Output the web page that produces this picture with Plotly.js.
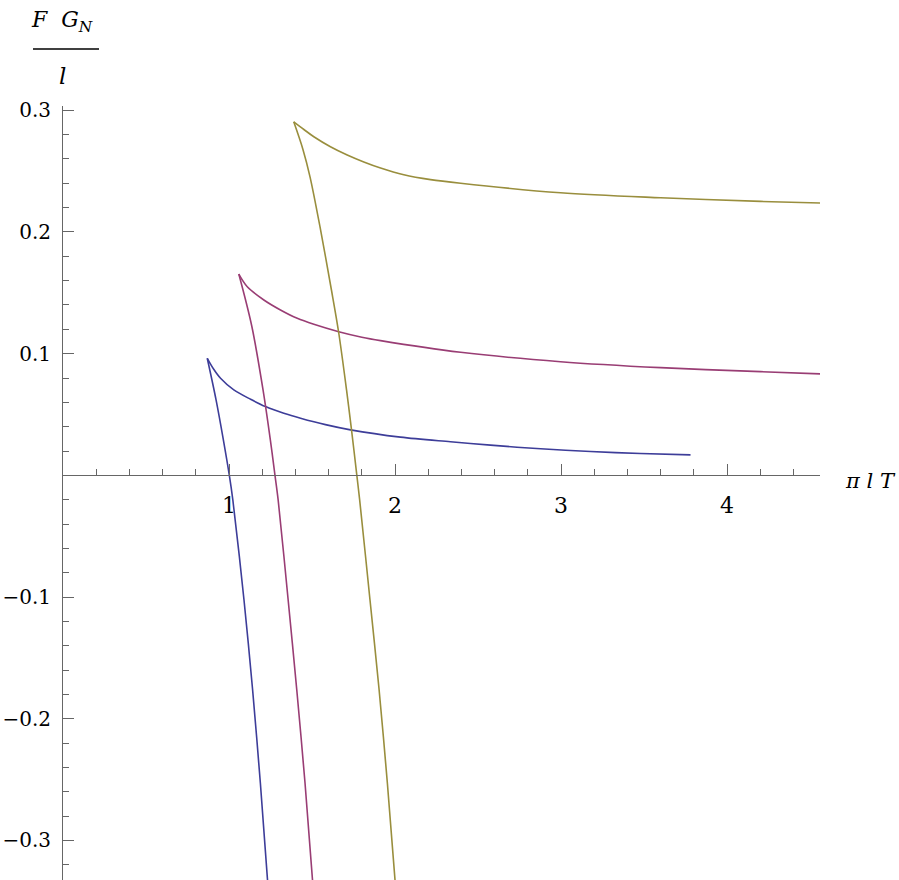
<!DOCTYPE html>
<html>
<head>
<meta charset="utf-8">
<script src="https://cdn.plot.ly/plotly-3.0.1.min.js"></script>
<style>html,body{margin:0;padding:0;background:#fff;}#chart{width:899px;height:880px;}</style>
</head>
<body>
<div id="chart"></div>
<script>
// Blue series: upper branch (right end -> cusp) and lower branch (cusp -> bottom)
const blueUpperX = [3.78, 3.479, 3.178, 2.877, 2.575, 2.334, 2.033, 1.732, 1.581, 1.431, 1.33, 1.22, 1.13, 1.029, 0.949, 0.908, 0.869];
const blueUpperY = [0.0168, 0.0179, 0.0196, 0.0218, 0.0248, 0.0276, 0.0314, 0.0374, 0.0417, 0.047, 0.0511, 0.0565, 0.0625, 0.0702, 0.0798, 0.0872, 0.0962];
const blueLowerX = [0.869, 0.922, 0.966, 1.002, 1.023, 1.090, 1.142, 1.189, 1.232];
const blueLowerY = [0.0962, 0.062, 0.0292, 0.0, -0.0201, -0.102, -0.176, -0.253, -0.3325];
// Magenta series
const magUpperX = [4.583, 4.202, 3.6, 2.997, 2.395, 1.913, 1.8, 1.661, 1.511, 1.411, 1.31, 1.21, 1.11, 1.059];
const magUpperY = [0.0833, 0.0852, 0.0885, 0.0934, 0.1011, 0.1107, 0.1135, 0.118, 0.1241, 0.129, 0.1359, 0.1441, 0.155, 0.1654];
const magLowerX = [1.059, 1.137, 1.205, 1.249, 1.277, 1.296, 1.356, 1.408, 1.458, 1.503];
const magLowerY = [0.1654, 0.1227, 0.0702, 0.0291, 0.0, -0.0201, -0.102, -0.176, -0.253, -0.3325];
// Olive series
const oliveUpperX = [4.583, 4.202, 3.6, 2.997, 2.395, 2.214, 2.053, 1.913, 1.812, 1.712, 1.611, 1.511, 1.451, 1.39];
const oliveUpperY = [0.2237, 0.2251, 0.2281, 0.2322, 0.240, 0.2430, 0.2470, 0.2525, 0.2575, 0.2632, 0.270, 0.2782, 0.2842, 0.2905];
const oliveLowerX = [1.39, 1.445, 1.488, 1.548, 1.617, 1.66, 1.708, 1.738, 1.770, 1.787, 1.849, 1.904, 1.954, 2.0];
const oliveLowerY = [0.2905, 0.268, 0.2453, 0.2043, 0.1523, 0.118, 0.0702, 0.0374, 0.0, -0.0201, -0.102, -0.176, -0.253, -0.3325];

const xTickVals = [1, 2, 3, 4];
const xTickText = ["1", "2", "3", "4"];
const yTickVals = [-0.3, -0.2, -0.1, 0.1, 0.2, 0.3];
const yTickText = ["\u22120.3", "\u22120.2", "\u22120.1", "0.1", "0.2", "0.3"];

const colors = ["#3D3D99", "#993D74", "#998E3D"];
const axisColor = "#666666";
const fontFam = "DejaVu Serif";

const mk = (x, y, c) => ({x: x, y: y, type: "scatter", mode: "lines",
  line: {color: c, width: 1.6, shape: "spline", smoothing: 0.9}, hoverinfo: "skip", showlegend: false});

const data = [
  mk(blueUpperX, blueUpperY, colors[0]), mk(blueLowerX, blueLowerY, colors[0]),
  mk(magUpperX, magUpperY, colors[1]), mk(magLowerX, magLowerY, colors[1]),
  mk(oliveUpperX, oliveUpperY, colors[2]), mk(oliveLowerX, oliveLowerY, colors[2])
];

const yMin = -0.3325, yMax = 0.3035;
const xPos = (0 - yMin) / (yMax - yMin);

const layout = {
  width: 899, height: 880,
  margin: {l: 63, r: 79, t: 106, b: 0, pad: 0},
  paper_bgcolor: "#fff", plot_bgcolor: "#fff",
  font: {family: fontFam, size: 20, color: "#000"},
  xaxis: {
    range: [0, 4.56], anchor: "free", position: xPos,
    tickmode: "array", tickvals: xTickVals, ticktext: xTickText,
    ticks: "inside", ticklen: 11, tickwidth: 1, tickcolor: axisColor,
    showline: true, linecolor: axisColor, linewidth: 1,
    showgrid: false, zeroline: false,
    tickfont: {family: fontFam, size: 22, color: "#000"},
    ticklabelstandoff: 10,
    minor: {ticks: "inside", ticklen: 6, tickwidth: 1, tickcolor: axisColor, tickmode: "linear", tick0: 0, dtick: 0.2, showgrid: false}
  },
  yaxis: {
    range: [yMin, yMax],
    tickmode: "array", tickvals: yTickVals, ticktext: yTickText,
    ticks: "inside", ticklen: 11, tickwidth: 1, tickcolor: axisColor,
    showline: true, linecolor: axisColor, linewidth: 1,
    showgrid: false, zeroline: false,
    tickfont: {family: fontFam, size: 20, color: "#000"},
    ticklabelstandoff: 7,
    minor: {ticks: "inside", ticklen: 6, tickwidth: 1, tickcolor: axisColor, tickmode: "linear", tick0: 0, dtick: 0.02, showgrid: false}
  },
  annotations: [
    {xref: "paper", yref: "paper", x: -0.0013, y: (880 - 21) / 774, xanchor: "center", yanchor: "middle", showarrow: false,
     text: "<i>F</i>  <i>G</i><sub><i>N</i></sub>", font: {family: fontFam, size: 22, color: "#000"}},
    {xref: "paper", yref: "paper", x: -0.0013, y: (880 - 76) / 774, xanchor: "center", yanchor: "middle", showarrow: false,
     text: "<i>l</i>", font: {family: fontFam, size: 23, color: "#000"}},
    {xref: "paper", yref: "paper", x: (870 - 63) / 757, y: (880 - 481) / 774, xanchor: "center", yanchor: "middle", showarrow: false,
     text: "<i>π</i> <i>l</i> <i>T</i>", font: {family: fontFam, size: 21, color: "#000"}}
  ],
  shapes: [
    {type: "line", xref: "paper", yref: "paper", x0: (33 - 63) / 757, x1: (99 - 63) / 757, y0: (880 - 49) / 774, y1: (880 - 49) / 774,
     line: {color: "#000", width: 1.5}}
  ]
};

Plotly.newPlot("chart", data, layout, {staticPlot: true, displayModeBar: false});
</script>
</body>
</html>
